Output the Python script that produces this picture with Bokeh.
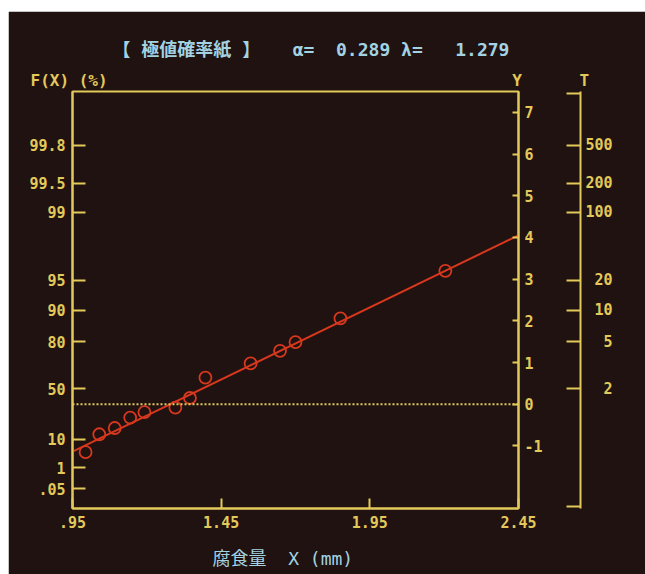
import math
from bokeh.plotting import figure
from bokeh.models import LinearAxis, FixedTicker, Span, Range1d, Title, Spacer
from bokeh.layouts import column, row
from bokeh.embed import file_html
from bokeh.resources import INLINE

# ---- data ----
corrosion_mm = [0.994, 1.040, 1.092, 1.144, 1.192, 1.296, 1.345, 1.397, 1.549, 1.648, 1.700, 1.851, 2.204]
reduced_variate = [-1.15, -0.72, -0.57, -0.32, -0.19, -0.08, 0.15, 0.64, 0.98, 1.28, 1.49, 2.06, 3.20]
alpha = 0.289
lam = 1.279

x_ticks = [0.95, 1.45, 1.95, 2.45]
x_tick_labels = [".95", "1.45", "1.95", "2.45"]
f_percent = [99.8, 99.5, 99, 95, 90, 80, 50, 10, 1, 0.05]
f_labels = ["99.8", "99.5", "99", "95", "90", "80", "50", "10", "1", ".05"]
y_ticks = [-1, 0, 1, 2, 3, 4, 5, 6, 7]
y_labels = ["-1", "0", "1", "2", "3", "4", "5", "6", "7"]
t_periods = [500, 200, 100, 20, 10, 5, 2]
t_labels = ["500", "200", "100", "\u200720", "\u200710", "\u2007\u20075", "\u2007\u20072"]

NB = "\u00a0"
title_text = "【" + NB + "極値確率紙" + NB + "】" + NB * 3 + "α=" + NB * 2 + "0.289" + NB + "λ=" + NB * 3 + "1.279"
axis_head_text = "F(X)" + NB + "(%)" + NB * 42 + "Y" + NB * 6 + "T"
x_title_text = "腐食量" + NB * 2 + "X" + NB + "(mm)"

BG = "#1f1210"
YEL = "#e3c95a"
RED = "#d8381e"
CYAN = "#a3d3e3"
MONO = "DejaVu Sans Mono"
MIXED = "DejaVu Sans Mono, Noto Sans CJK JP"


def gumbel_y(F):
    return round(-math.log(-math.log(F)), 4)


p = figure(width=637, height=563, x_range=Range1d(0.95, 2.45), y_range=Range1d(-2.5, 7.5),
           title=None, output_backend="svg", toolbar_location=None, x_axis_type=None, y_axis_type=None,
           background_fill_color=BG, border_fill_color=BG,
           outline_line_color=YEL, outline_line_width=2,
           min_border_left=64, min_border_right=127, min_border_top=80, min_border_bottom=66)


def style_axis(ax, tick_in, standoff):
    ax.axis_line_color = YEL
    ax.axis_line_width = 2
    ax.major_tick_line_color = YEL
    ax.major_tick_line_width = 2
    ax.major_tick_in = tick_in
    ax.major_tick_out = 0
    ax.minor_tick_line_color = None
    ax.major_label_text_color = YEL
    ax.major_label_text_font = MONO
    ax.major_label_text_font_style = "bold"
    ax.major_label_text_font_size = "15px"
    ax.major_label_standoff = standoff


# left F(X) axis
f_pos = [gumbel_y(f / 100.0) for f in f_percent]
left = LinearAxis(ticker=FixedTicker(ticks=f_pos, minor_ticks=[]),
                  major_label_overrides={v: s for v, s in zip(f_pos, f_labels)})
style_axis(left, 13, 7)
p.add_layout(left, "left")

# bottom X axis (blank axis label only pads the space below the tick labels)
bottom = LinearAxis(ticker=FixedTicker(ticks=x_ticks, minor_ticks=[]),
                    major_label_overrides={v: s for v, s in zip(x_ticks, x_tick_labels)})
style_axis(bottom, 10, 7)
bottom.axis_label = " "
bottom.axis_label_text_font_size = "1px"
bottom.axis_label_standoff = 6
p.add_layout(bottom, "below")

# right Y axis
yax = LinearAxis(ticker=FixedTicker(ticks=y_ticks, minor_ticks=[]),
                 major_label_overrides={v: s for v, s in zip(y_ticks, y_labels)})
style_axis(yax, 6, 6)
yax.axis_label = " "
yax.axis_label_text_font_size = "10px"
yax.axis_label_standoff = 21
p.add_layout(yax, "right")

# right T axis (return period)
t_pos = [gumbel_y(1 - 1.0 / t) for t in t_periods]
t_ends = [7.46, -2.46]
t_over = {v: s for v, s in zip(t_pos, t_labels)}
for e in t_ends:
    t_over[e] = ""
tax = LinearAxis(ticker=FixedTicker(ticks=t_pos + t_ends, minor_ticks=[]),
                 major_label_overrides=t_over)
style_axis(tax, 14, 5)
p.add_layout(tax, "right")

# zero line
p.add_layout(Span(location=0, dimension="width", line_color=YEL, line_width=2, line_dash="2 2"))

# fitted Gumbel line
line_x = [x_ticks[0], x_ticks[-1]]
line_y = [(x - lam) / alpha for x in line_x]
p.line(line_x, line_y, line_color=RED, line_width=2)

# observed points
p.scatter(corrosion_mm, reduced_variate, marker="circle", size=12, fill_color=None,
          line_color=RED, line_width=1.8)

# header rows (nearest the frame first) and x title
p.add_layout(Title(text=axis_head_text, align="left", offset=-42, standoff=4,
                   text_color=YEL, text_font=MONO, text_font_size="16px",
                   text_font_style="bold"), "above")
p.add_layout(Title(text=title_text, align="left", offset=40, standoff=13,
                   text_color=CYAN, text_font=MIXED, text_font_size="18px",
                   text_font_style="bold"), "above")
p.add_layout(Title(text=x_title_text, align="left", offset=140, standoff=10,
                   text_color=CYAN, text_font=MIXED, text_font_size="18px",
                   text_font_style="normal"), "below")

layout = column(Spacer(height=11), row(Spacer(width=8), p))

open("out.html", "w").write(file_html(layout, INLINE))
